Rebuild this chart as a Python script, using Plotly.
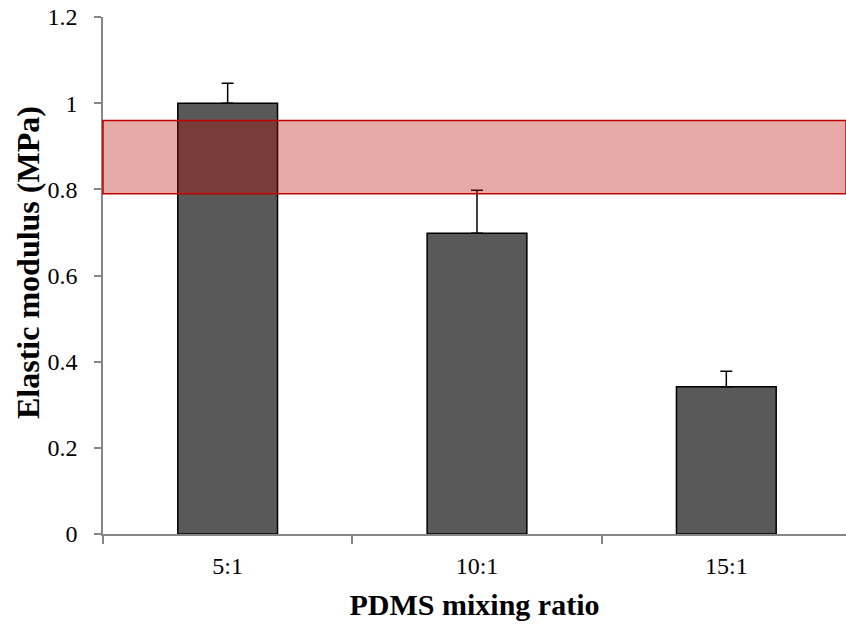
import plotly.graph_objects as go

# Elastic modulus of PDMS at three base:curing-agent mixing ratios
ratios = ["5:1", "10:1", "15:1"]
modulus = [1.0, 0.698, 0.342]
modulus_err = [0.046, 0.10, 0.036]

# Target modulus range highlighted across the plot
band_low = 0.79
band_high = 0.96

y_ticks = [0, 0.2, 0.4, 0.6, 0.8, 1, 1.2]
y_ticklabels = ["0", "0.2", "0.4", "0.6", "0.8", "1", "1.2"]

serif = "Liberation Serif, Times New Roman, serif"
axis_grey = "#868686"

fig = go.Figure()
fig.add_trace(go.Bar(
    x=ratios,
    y=modulus,
    width=0.4,
    marker=dict(color="#595959", line=dict(color="#000000", width=1.5)),
    error_y=dict(
        type="data",
        array=modulus_err,
        symmetric=False,
        arrayminus=[0, 0, 0],
        color="#000000",
        thickness=1.5,
        width=6,
    ),
))

fig.add_shape(
    type="rect",
    xref="paper", yref="y",
    x0=0, x1=1, y0=band_low, y1=band_high,
    fillcolor="rgba(187,0,0,0.337)",
    line=dict(color="#C00000", width=1.5),
    layer="above",
)

# Vertical axis title, set slightly above the plot's mid-height
fig.add_annotation(
    text="<b>Elastic modulus (MPa)</b>",
    xref="paper", yref="paper",
    x=-0.101, y=0.526,
    xanchor="center", yanchor="middle",
    textangle=-90,
    showarrow=False,
    font=dict(family=serif, size=32, color="#000000"),
)

fig.update_layout(
    width=846,
    height=625,
    margin=dict(l=103, r=0, t=17, b=91),
    paper_bgcolor="white",
    plot_bgcolor="white",
    showlegend=False,
    font=dict(family=serif, size=24, color="#000000"),
    xaxis=dict(
        type="category",
        range=[-0.5, 2.48],
        showline=True,
        linecolor=axis_grey,
        linewidth=1.5,
        ticks="outside",
        tickson="boundaries",
        ticklen=8,
        tickcolor=axis_grey,
        tickwidth=1.5,
        ticklabelstandoff=9,
        showgrid=False,
        zeroline=False,
        tickfont=dict(family=serif, size=24),
        title=dict(text="<b>PDMS mixing ratio</b>", font=dict(family=serif, size=30), standoff=16),
    ),
    yaxis=dict(
        range=[0, 1.2],
        tickvals=y_ticks,
        ticktext=y_ticklabels,
        showline=True,
        linecolor=axis_grey,
        linewidth=1.5,
        ticks="outside",
        ticklen=7,
        tickcolor=axis_grey,
        tickwidth=1.5,
        ticklabelstandoff=12,
        showgrid=False,
        zeroline=False,
        tickfont=dict(family=serif, size=24),
    ),
)

fig.write_html("out.html")
